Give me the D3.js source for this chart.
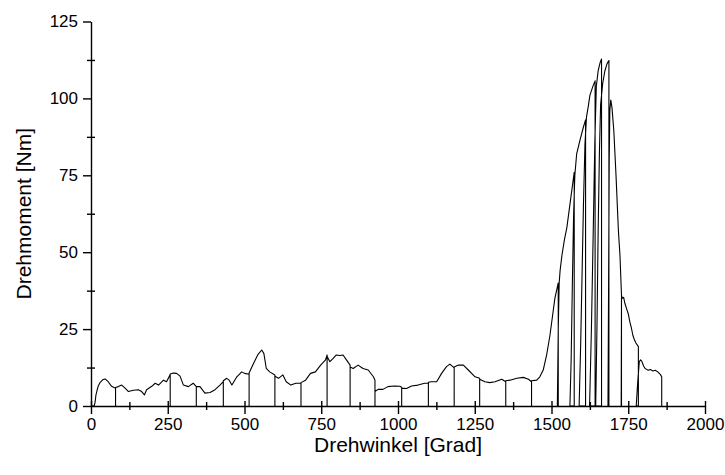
<!DOCTYPE html>
<html>
<head>
<meta charset="utf-8">
<script src="https://cdn.jsdelivr.net/npm/d3@7"></script>
<style>
body { margin: 0; background: #fff; }
</style>
</head>
<body>
<script>

// measured points [Drehwinkel, Drehmoment], one drop to 0 at the end of each run
const messpunkte = [
    [0,0],[10,0],[13,1],[16,3.5],[20,5.2],[24,6.6],[30,7.7],[38,8.5],[46,8.8],[56,7.9],[67,6.4],[80,5.8],[80,0],
    [80,6],[89,6.3],[100,6.8],[111,5.8],[122,4.7],[138,5.1],[154,5.3],[165,4.7],[174,3.6],[181,5.3],[198,6.4],[209,7.4],[220,6.8],[236,8.4],[246,7.9],[258,10.2],[258,0],
    [258,10.4],[268,10.7],[279,10.6],[290,9.7],[301,6.8],[317,6.3],[333,7.4],[343,6.3],[343,0],
    [343,6.3],[355,6.3],[371,4.2],[388,4.4],[404,5.3],[420,6.8],[431,7.9],[431,0],
    [431,8.2],[442,9],[450,8.4],[459,6.8],[475,9.5],[491,11.1],[500,10.6],[515,10.3],[515,0],
    [515,10.7],[527,13.3],[543,16.6],[556,18.2],[563,17.1],[571,12.2],[582,11.1],[599,10.1],[599,0],
    [599,9.7],[611,9],[625,10.1],[636,7.9],[651,6.8],[667,7.4],[684,7.4],[684,0],
    [684,7.6],[699,8.4],[715,10.6],[731,11.1],[748,13.3],[764,15],[769,16.6],[769,0],
    [769,16.2],[778,14.4],[789,15.5],[799,16.6],[810,16.4],[821,16.6],[832,15],[844,13.3],[844,0],
    [844,12.7],[854,12.2],[870,13.3],[886,12.2],[903,11.7],[920,9.5],[925,8.4],[925,0],
    [925,4.7],[935,5.4],[951,5.4],[967,6.3],[988,6.5],[1006,6.4],[1012,6.1],[1012,0],
    [1012,5.8],[1028,5.7],[1044,6.5],[1065,6.8],[1087,7.4],[1099,7.4],[1099,0],
    [1099,7.7],[1109,7.9],[1126,7.9],[1142,10.6],[1158,12.8],[1169,13.6],[1183,12.4],[1183,0],
    [1183,12.7],[1197,13.3],[1213,13.3],[1229,11.7],[1251,9.5],[1266,9],[1266,0],
    [1266,8.7],[1283,7.9],[1299,7.6],[1316,7.9],[1338,8.7],[1351,7.9],[1351,0],
    [1351,8.2],[1365,8.4],[1387,9],[1408,9.3],[1425,8.7],[1435,7.9],[1435,0],
    [1435,8.2],[1452,8.4],[1462,9.5],[1473,11.7],[1484,16.5],[1495,23],[1503,29],[1511,35],[1522,40],[1522,0],
    [1519,0],[1522,25],[1525,40],[1528,44],[1534,49],[1542,54],[1550,58],[1562,67],[1574,76],[1574,0],
    [1560,0],[1564,15],[1568,40],[1572,62],[1576,75],[1582,82],[1593,86.5],[1604,90.7],[1611,93],[1611,0],
    [1590,0],[1595,20],[1600,45],[1604,65],[1609,85],[1614,94],[1620,97.5],[1625,101],[1635,104],[1642,105.7],[1642,0],
    [1624,0],[1630,25],[1636,57],[1641,85],[1646,104],[1652,109],[1658,111.5],[1663,112.8],[1663,0],
    [1644,0],[1648,25],[1652,57],[1656,82],[1660,98],[1667,105],[1674,109],[1681,111.3],[1687,112.3],[1687,0],
    [1684,0],[1686,40],[1688,80],[1690,96],[1693,99.5],[1697,97],[1703,89.5],[1710,75.3],[1718,56.8],[1723,49],[1728,36],[1728,0],
    [1727,0],[1728,36],[1731,35],[1735,35.3],[1739,33.4],[1745,31.5],[1750,30],[1755,27.4],[1760,25.5],[1765,23],[1770,21.5],[1775,20.5],[1783,19.3],[1783,0],
    [1776,0],[1781,8],[1786,14.4],[1790,15],[1794,14.6],[1800,13],[1805,12.2],[1810,11.9],[1815,11.6],[1822,11.9],[1830,11.4],[1838,11.6],[1846,11.1],[1855,10.2],[1859,9.5],[1859,0]
];

const xTicks = [0,250,500,750,1000,1250,1500,1750,2000];
const xMinorTicks = [125,375,625,875,1125,1375,1625,1875];
const yTicks = [0,25,50,75,100,125];
const yMinorTicks = [12.5,37.5,62.5,87.5,112.5];
const xTitle = 'Drehwinkel [Grad]';
const yTitle = 'Drehmoment [Nm]';

window.onload = function(){

    const width = 725;
    const height = 475;
    const left = 91;
    const top = 21.5;
    const chartWidth = 614;
    const chartHeight = 384.5;
    const font = '"Liberation Sans", Arial, sans-serif';

    const xScale = d3.scaleLinear()
        .domain([0,2000])
        .range([0,chartWidth]);

    const yScale = d3.scaleLinear()
        .domain([0,125])
        .range([chartHeight,0]);

    let svg = d3.select('body')
                .append('svg')
                    .attr('width', width)
                    .attr('height', height);

    let graph = svg.append('g')
                    .attr('transform', `translate(${left},${top})`);

    // curve
    const line = d3.line()
        .x(d => xScale(d[0]))
        .y(d => yScale(d[1]));

    graph.append('path')
        .datum(messpunkte)
        .attr('d', line)
        .attr('fill', 'none')
        .attr('stroke', '#000')
        .attr('stroke-width', 1.1)
        .attr('stroke-linejoin', 'round');

    // x axis, major ticks cross the line
    const xAxis = graph.append('g')
        .attr('transform', `translate(0,${chartHeight})`)
        .call(d3.axisBottom(xScale).tickValues(xTicks).tickSize(8).tickSizeOuter(0).tickPadding(4).tickFormat(d3.format('d')));
    xAxis.selectAll('.tick line').attr('y1', -5);

    const xMinor = graph.append('g')
        .attr('transform', `translate(0,${chartHeight})`)
        .call(d3.axisBottom(xScale).tickValues(xMinorTicks).tickSize(4).tickFormat(''));
    xMinor.select('.domain').remove();
    xMinor.selectAll('.tick line').attr('y1', -4);

    // y axis
    const yAxis = graph.append('g')
        .call(d3.axisLeft(yScale).tickValues(yTicks).tickSize(8).tickSizeOuter(0).tickPadding(5));

    const yMinor = graph.append('g')
        .call(d3.axisLeft(yScale).tickValues(yMinorTicks).tickSize(4).tickFormat(''));
    yMinor.select('.domain').remove();
    yMinor.selectAll('.tick line').attr('x1', 4);

    svg.selectAll('.domain, .tick line')
        .attr('stroke', '#000')
        .attr('stroke-width', 1.4);

    svg.selectAll('.tick text')
        .attr('font-family', font)
        .attr('font-size', 17)
        .attr('fill', '#000');

    // titles
    svg.append('text')
        .attr('x', left + chartWidth/2)
        .attr('y', 452)
        .attr('text-anchor', 'middle')
        .attr('font-family', font)
        .attr('font-size', 21)
        .text(xTitle);

    svg.append('text')
        .attr('transform', `translate(31,${top + chartHeight/2}) rotate(-90)`)
        .attr('text-anchor', 'middle')
        .attr('font-family', font)
        .attr('font-size', 21)
        .text(yTitle);
};
</script>
</body>
</html>
